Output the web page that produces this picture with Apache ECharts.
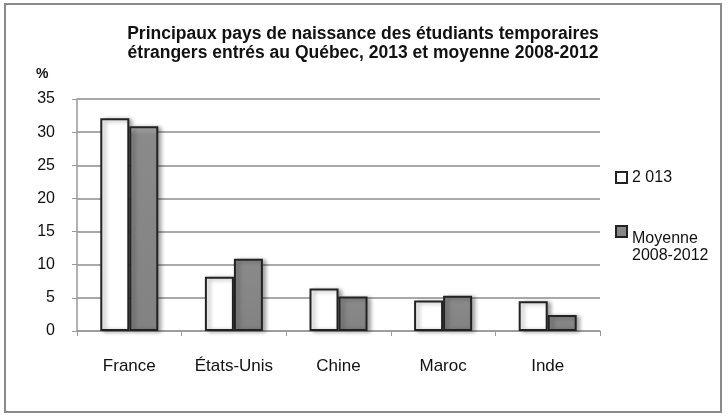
<!DOCTYPE html>
<html>
<head>
<meta charset="utf-8">
<script src="https://cdn.jsdelivr.net/npm/echarts@6/dist/echarts.min.js"></script>
<style>
  html, body { margin: 0; padding: 0; background: #fff; }
  #chart { width: 726px; height: 417px; }
</style>
</head>
<body>
<div id="chart"></div>
<script>
// pays
var categories = ['France', 'États-Unis', 'Chine', 'Maroc', 'Inde'];
// valeurs en %
var valeurs2013 = [32.1, 8.2, 6.4, 4.6, 4.5];
var moyenne0812 = [30.9, 10.9, 5.2, 5.3, 2.4];
var seriesNames = ['2 013', 'Moyenne 2008-2012'];
var yTicks = [0, 5, 10, 15, 20, 25, 30, 35];

var chart = echarts.init(document.getElementById('chart'));

var barShadow = {
    shadowColor: 'rgba(0,0,0,0.35)',
    shadowBlur: 4,
    shadowOffsetX: 3,
    shadowOffsetY: 1
};

var option = {
    animation: false,
    textStyle: { fontFamily: 'Liberation Sans, Arial, sans-serif' },
    title: {
        text: 'Principaux pays de naissance des étudiants temporaires\nétrangers entrés au Québec, 2013 et moyenne 2008-2012',
        left: 358,
        textAlign: 'center',
        top: 20,
        textStyle: { fontSize: 17.5, fontWeight: 'bold', color: '#111', lineHeight: 19 }
    },
    graphic: [{
        type: 'rect',
        shape: { x: 5, y: 4, width: 716, height: 408 },
        style: { fill: 'none', stroke: '#8a8a8a', lineWidth: 2 }
    }, {
        type: 'text',
        left: 36,
        top: 67,
        style: { text: '%', font: 'bold 14px Liberation Sans, Arial', fill: '#111' }
    }],
    legend: {
        orient: 'vertical',
        left: 610,
        top: 164,
        itemGap: 13,
        itemWidth: 11,
        itemHeight: 11,
        icon: 'rect',
        data: seriesNames,
        formatter: function (name) {
            // carré aligné sur le haut de « Moyenne »
            return name === seriesNames[1] ? '{e| }\n{t|Moyenne}\n{t|2008-2012}' : '{t|' + name + '}';
        },
        textStyle: {
            fontSize: 16, color: '#111', lineHeight: 17,
            rich: {
                e: { lineHeight: 31, fontSize: 16 },
                t: { lineHeight: 17, fontSize: 16, color: '#111' }
            }
        }
    },
    grid: { left: 77, right: 126, top: 99, bottom: 86 },
    xAxis: {
        type: 'category',
        data: categories,
        axisLine: { lineStyle: { color: '#999', width: 1.5 } },
        axisTick: { show: true, length: 5, lineStyle: { color: '#999' } },
        axisLabel: { color: '#111', fontSize: 17, margin: 27 }
    },
    yAxis: {
        type: 'value',
        min: 0,
        max: 35,
        interval: 5,
        axisLine: { show: true, lineStyle: { color: '#999', width: 1.5 } },
        axisTick: { show: true, length: 5, lineStyle: { color: '#999' } },
        axisLabel: {
            color: '#111', fontSize: 16, margin: 22,
            formatter: function (v) { return yTicks.indexOf(v) >= 0 ? String(v) : ''; }
        },
        splitLine: { lineStyle: { color: '#8c8c8c', width: 1.5 } }
    },
    series: [{
        name: seriesNames[0],
        type: 'bar',
        data: valeurs2013,
        barWidth: 29,
        barGap: '0%',
        itemStyle: Object.assign({ color: '#fff', borderColor: '#222', borderWidth: 2 }, barShadow)
    }, {
        name: seriesNames[1],
        type: 'bar',
        data: moyenne0812,
        barWidth: 29,
        itemStyle: Object.assign({
            color: new echarts.graphic.LinearGradient(0, 0, 0, 1, [
                { offset: 0, color: '#bdbdbd' },
                { offset: 0.04, color: '#8a8a8a' },
                { offset: 1, color: '#828282' }
            ]),
            borderColor: '#222',
            borderWidth: 2
        }, barShadow)
    }]
};

chart.setOption(option);
</script>
</body>
</html>
